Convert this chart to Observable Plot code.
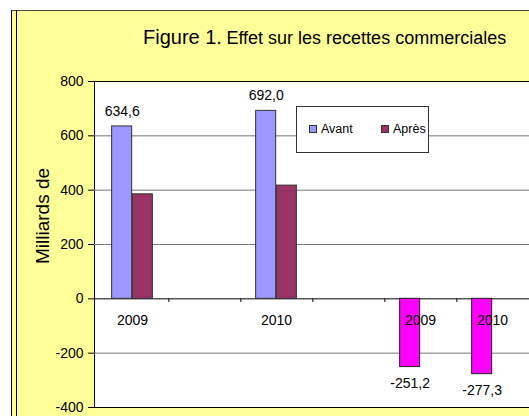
<!DOCTYPE html>
<html>
<head>
<meta charset="utf-8">
<script src="https://cdn.jsdelivr.net/npm/d3@7"></script>
<script src="https://cdn.jsdelivr.net/npm/@observablehq/plot@0.6"></script>
<style>
  html, body { margin: 0; padding: 0; background: #ffffff; overflow: hidden; }
  #wrap { position: relative; width: 529px; height: 416px; overflow: hidden; font-family: "Liberation Sans", Arial, sans-serif; color: #000; }
  #panel { position: absolute; left: 11px; top: 10px; width: 600px; height: 500px; background: #FFFF99; border-left: 1px solid #000; border-top: 1px solid #444; }
  #innerline { position: absolute; left: 16px; top: 10px; width: 1px; height: 420px; background: #000; }
  #chart { position: absolute; left: 0; top: 0; }
  #title { position: absolute; left: 143px; top: 27px; white-space: nowrap; line-height: 1; }
  #title .a { font-size: 20px; }
  #title .b { font-size: 18px; }
  #ylabel { position: absolute; left: 42px; top: 216px; transform: translate(-50%, -50%) rotate(-90deg); font-size: 19px; white-space: nowrap; line-height: 1; }
  #legend { position: absolute; left: 296px; top: 106px; width: 131px; height: 45px; background: #fff; border: 1px solid #333; font-size: 12.5px; }
  #legend .item { position: absolute; top: 16px; line-height: 1; white-space: nowrap; }
  #legend .sw { display: inline-block; width: 6px; height: 6px; border: 1px solid #333; margin-right: 4px; vertical-align: 0px; }
</style>
</head>
<body>
<div id="wrap">
  <div id="panel"></div>
  <div id="innerline"></div>
  <div id="chart"></div>
  <div id="title"><span class="a">Figure 1.</span> <span class="b">Effet sur les recettes commerciales</span></div>
  <div id="ylabel">Milliards de</div>
  <div id="legend"></div>
</div>
<script>
// ---- data ----
const categoryLabels = ["2009", "", "2010", "", "2009", "2010"];
const avant = [634.6, null, 692.0, null, -251.2, -277.3];
const apres = [384.7, null, 416.8, null, null, null];
const seriesNames = ["Avant", "Après"];
const yTicks = [-400, -200, 0, 200, 400, 600, 800];
const yGrid = [-200, 200, 400, 600];

// ---- styles ----
const colAvant = "#9999FF", colApres = "#993366", colNeg = "#FF00FF";
const seriesColors = [colAvant, colApres];

const rows = categoryLabels.map((label, i) => ({i, label, avant: avant[i], apres: apres[i]}));
const fr = d3.formatLocale({decimal: ",", thousands: " ", grouping: [3], currency: ["", " €"], minus: "-"}).format(".1f");

const plotW = 545, mL = 94, mR = 15;
const band = (plotW - mL - mR) / categoryLabels.length;
const barW = 20.7;
const inset = (band - barW) / 2;
const off = barW / 2;

const chart = Plot.plot({
  width: plotW, height: 416,
  marginLeft: mL, marginRight: mR, marginTop: 81, marginBottom: 9,
  style: {background: "transparent", maxWidth: "none", fontFamily: "'Liberation Sans', Arial, sans-serif", fontSize: "14px", color: "black"},
  x: {domain: d3.range(categoryLabels.length), padding: 0, axis: null},
  y: {domain: [-400, 800], ticks: yTicks, tickSize: 6, tickPadding: 5, label: null, tickFormat: d => String(d)},
  marks: [
    Plot.frame({fill: "white", stroke: "black"}),
    Plot.ruleY(yGrid, {stroke: "#777", strokeWidth: 1}),
    Plot.ruleY([0], {stroke: "black"}),
    Plot.ruleX(rows.slice(0, categoryLabels.length - 1), {x: "i", dx: band / 2, y1: 0, y2: -400, insetBottom: 105, stroke: "black"}),
    Plot.barY(rows.filter(d => d.avant != null && d.avant > 0), {x: "i", y: "avant", dx: -off, insetLeft: inset, insetRight: inset, fill: colAvant, stroke: "#333"}),
    Plot.barY(rows.filter(d => d.avant != null && d.avant < 0), {x: "i", y: "avant", dx: -off, insetLeft: inset, insetRight: inset, fill: colNeg, stroke: "#222"}),
    Plot.barY(rows.filter(d => d.apres != null), {x: "i", y: "apres", dx: off, insetLeft: inset, insetRight: inset, fill: colApres, stroke: "#333"}),
    Plot.text(rows.filter(d => d.label !== ""), {x: "i", y: 0, text: "label", dy: 22, fontSize: 14, fill: "black"}),
    Plot.text(rows.filter(d => d.avant != null && d.avant > 0), {x: "i", y: "avant", text: d => fr(d.avant), dx: -off, dy: -15, fontSize: 14, fill: "black"}),
    Plot.text(rows.filter(d => d.avant != null && d.avant < 0), {x: "i", y: "avant", text: d => fr(d.avant), dx: -off, dy: 16, fontSize: 14, fill: "black"})
  ]
});
document.getElementById("chart").appendChild(chart);

// legend
const lg = document.getElementById("legend");
const lefts = [12, 84];
seriesNames.forEach((name, k) => {
  const it = document.createElement("div");
  it.className = "item";
  it.style.left = lefts[k] + "px";
  const sw = document.createElement("span");
  sw.className = "sw";
  sw.style.background = seriesColors[k];
  it.appendChild(sw);
  it.appendChild(document.createTextNode(name));
  lg.appendChild(it);
});
</script>
</body>
</html>
